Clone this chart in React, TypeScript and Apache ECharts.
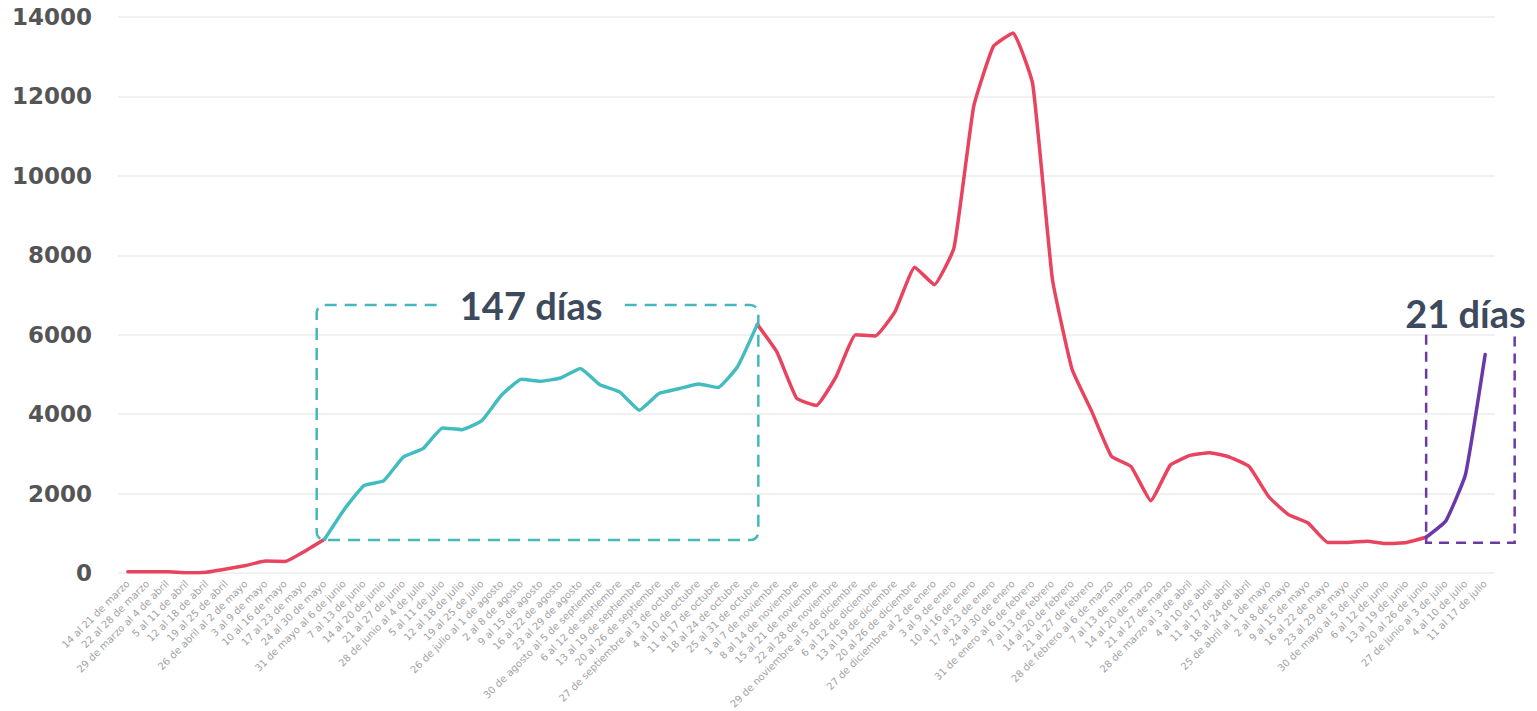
import React, { useEffect, useRef } from "react";
import * as echarts from "echarts";

const categories = [
  "14 al 21 de marzo", "22 al 28 de marzo", "29 de marzo al 4 de abril", "5 al 11 de abril",
  "12 al 18 de abril", "19 al 25 de abril", "26 de abril al 2 de mayo", "3 al 9 de mayo",
  "10 al 16 de mayo", "17 al 23 de mayo", "24 al 30 de mayo", "31 de mayo al 6 de junio",
  "7 al 13 de junio", "14 al 20 de junio", "21 al 27 de junio", "28 de junio al 4 de julio",
  "5 al 11 de julio", "12 al 18 de julio", "19 al 25 de julio", "26 de julio al 1 de agosto",
  "2 al 8 de agosto", "9 al 15 de agosto", "16 al 22 de agosto", "23 al 29 de agosto",
  "30 de agosto al 5 de septiembre", "6 al 12 de septiembre", "13 al 19 de septiembre",
  "20 al 26 de septiembre", "27 de septiembre al 3 de octubre", "4 al 10 de octubre",
  "11 al 17 de octubre", "18 al 24 de octubre", "25 al 31 de octubre", "1 al 7 de noviembre",
  "8 al 14 de noviembre", "15 al 21 de noviembre", "22 al 28 de noviembre",
  "29 de noviembre al 5 de diciembre", "6 al 12 de diciembre", "13 al 19 de diciembre",
  "20 al 26 de diciembre", "27 de diciembre al 2 de enero", "3 al 9 de enero",
  "10 al 16 de enero", "17 al 23 de enero", "24 al 30 de enero", "31 de enero al 6 de febrero",
  "7 al 13 de febrero", "14 al 20 de febrero", "21 al 27 de febrero",
  "28 de febrero al 6 de marzo", "7 al 13 de marzo", "14 al 20 de marzo", "21 al 27 de marzo",
  "28 de marzo al 3 de abril", "4 al 10 de abril", "11 al 17 de abril", "18 al 24 de abril",
  "25 de abril al 1 de mayo", "2 al 8 de mayo", "9 al 15 de mayo", "16 al 22 de mayo",
  "23 al 29 de mayo", "30 de mayo al 5 de junio", "6 al 12 de junio", "13 al 19 de junio",
  "20 al 26 de junio", "27 de junio al 3 de julio", "4 al 10 de julio", "11 al 17 de julio",
];

const casos = [
  30, 30, 30, 5, 20, 100, 190, 300, 290, 550,
  850, 1600, 2200, 2320, 2920, 3130, 3650, 3610, 3840, 4480,
  4880, 4830, 4910, 5150, 4740, 4560, 4100, 4520, 4640, 4760,
  4670, 5200, 6260, 5560, 4400, 4220, 4940, 6000, 5970, 6580,
  7700, 7260, 8190, 11750, 13260, 13600, 12310, 7400, 5130, 4070,
  2940, 2680, 1820, 2720, 2960, 3030, 2920, 2680, 1920, 1470,
  1260, 770, 770, 800, 740, 770, 900, 1310, 2480, 5500,
];

const tealStart = 10;
const tealEnd = 32;
const purpleStart = 66;
const tealBox = { top: 6750, bottom: 830, label: "147 días" };
const purpleBox = { top: 6000, bottom: 760, label: "21 días" };

export default function App() {
  const ref = useRef<HTMLDivElement>(null);
  useEffect(() => {
    const chart = echarts.init(ref.current!, null, { renderer: "svg" });
    const red = casos.map((v, i) =>
      i <= tealStart || (i >= tealEnd && i <= purpleStart) ? v : null
    );
    const teal = casos.map((v, i) => (i >= tealStart && i <= tealEnd ? v : null));
    const purple = casos.map((v, i) => (i >= purpleStart ? v : null));
    const lineBase = {
      type: "line",
      showSymbol: false,
      symbol: "none",
      connectNulls: false,
      smooth: 0.12,
      lineStyle: { width: 3.5, join: "round", cap: "round" },
    };
    chart.setOption({
      animation: false,
      backgroundColor: "#ffffff",
      grid: { left: 118, right: 42, top: 17, bottom: 138, outerBoundsMode: "none", containLabel: false },
      xAxis: {
        type: "category",
        data: categories,
        boundaryGap: true,
        axisLine: { show: false },
        axisTick: { show: false },
        axisLabel: {
          interval: 0,
          rotate: 45,
          fontSize: 10,
          color: "#a3a3a3",
          fontFamily: "DejaVu Sans",
          margin: 9,
        },
      },
      yAxis: {
        type: "value",
        min: 0,
        max: 14000,
        interval: 2000,
        axisLine: { show: false },
        axisTick: { show: false },
        axisLabel: {
          fontSize: 23,
          fontWeight: "bold",
          color: "#555555",
          fontFamily: "DejaVu Sans",
          margin: 26,
          formatter: (v: number) => String(v),
        },
        splitLine: { lineStyle: { color: "#ececec", width: 1.5 } },
      },
      series: [
        { ...lineBase, name: "red", data: red, itemStyle: { color: "#e8435f" }, lineStyle: { ...lineBase.lineStyle, color: "#e8435f" }, z: 3 },
        { ...lineBase, name: "teal", data: teal, itemStyle: { color: "#43bcc0" }, lineStyle: { ...lineBase.lineStyle, color: "#43bcc0" }, z: 4 },
        { ...lineBase, name: "purple", data: purple, itemStyle: { color: "#6a38a8" }, lineStyle: { ...lineBase.lineStyle, color: "#6a38a8" }, z: 4 },
      ],
    });

    const px = (i: number, v: number) => chart.convertToPixel({ gridIndex: 0 }, [i, v]) as number[];
    const bw = px(tealStart + 1, 0)[0] - px(tealStart, 0)[0];
    const tL = px(tealStart, 0)[0] - 0.4 * bw;
    const tR = px(tealEnd, 0)[0] + 1;
    const tT = px(0, tealBox.top)[1];
    const tB = px(0, tealBox.bottom)[1];
    const pL = px(purpleStart, 0)[0];
    const pR = px(categories.length - 1, 0)[0] + 1.5 * bw;
    const pT = px(0, purpleBox.top)[1];
    const pB = px(0, purpleBox.bottom)[1];

    chart.setOption({
      graphic: [
        {
          type: "rect",
          z: 1,
          shape: { x: tL, y: tT, width: tR - tL, height: tB - tT, r: 8 },
          style: { fill: "none", stroke: "#45b8bb", lineWidth: 2.5, lineDash: [12, 8] },
        },
        {
          type: "text",
          z: 2,
          x: tL + 10.9 * bw,
          y: tT,
          style: {
            text: tealBox.label,
            font: "bold 38px Lato",
            fill: "#3d4a5d",
            align: "center",
            verticalAlign: "middle",
            backgroundColor: "#ffffff",
            padding: [2, 22],
          },
        },
        {
          type: "polyline",
          z: 1,
          shape: { points: [[pL, pT], [pL, pB], [pR, pB], [pR, pT]] },
          style: { fill: "none", stroke: "#6a3aa6", lineWidth: 2.5, lineDash: [10, 7] },
        },
        {
          type: "text",
          z: 2,
          x: pL + 2 * bw,
          y: pT - 22,
          style: {
            text: purpleBox.label,
            font: "bold 38px Lato",
            fill: "#3d4a5d",
            align: "center",
            verticalAlign: "middle",
          },
        },
      ],
    });
    return () => chart.dispose();
  }, []);
  return (
    <div
      ref={ref}
      style={{ position: "fixed", left: 0, top: 0, width: 1537, height: 711, background: "#fff" }}
    />
  );
}
